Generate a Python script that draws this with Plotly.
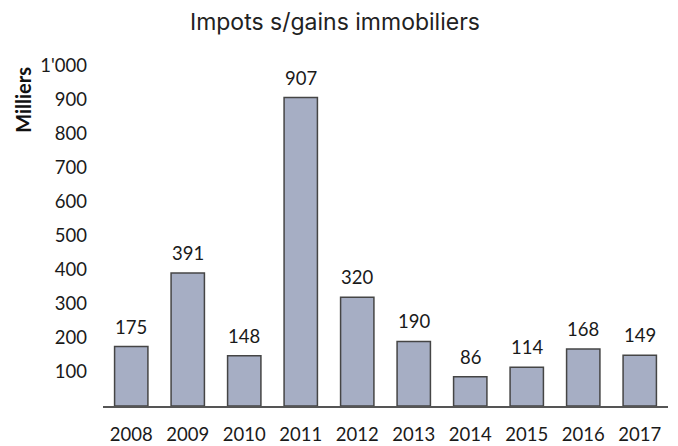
import plotly.graph_objects as go

years = ["2008", "2009", "2010", "2011", "2012", "2013", "2014", "2015", "2016", "2017"]
values = [175, 391, 148, 907, 320, 190, 86, 114, 168, 149]
tick_vals = [100, 200, 300, 400, 500, 600, 700, 800, 900, 1000]
tick_text = ["100", "200", "300", "400", "500", "600", "700", "800", "900", "1'000"]

FONT = "Lato, Open Sans, sans-serif"

fig = go.Figure()
fig.add_trace(go.Bar(
    x=years, y=values,
    marker=dict(color="#a6aec4", line=dict(color="#454545", width=1.5)),
    width=0.59,
))

# category axis: annotation x given as category index
for i, v in enumerate(values):
    fig.add_annotation(x=i, y=v, text=str(v), showarrow=False,
                       xanchor="center", yanchor="bottom", yshift=7,
                       font=dict(family=FONT, size=18.5, color="#1a1a1a"))

fig.add_annotation(xref="paper", yref="paper", x=-0.142, y=0.9,
                   xanchor="center", yanchor="middle",
                   text="<b>Milliers</b>", textangle=-90, showarrow=False,
                   font=dict(family=FONT, size=20, color="#111"))

fig.update_layout(
    width=670, height=446,
    margin=dict(l=95, r=10, t=58, b=48, autoexpand=False),
    paper_bgcolor="white", plot_bgcolor="white",
    title=dict(text="Impots s/gains immobiliers", x=0.488, xanchor="center",
               y=1 - 14 / 446, yanchor="middle",
               font=dict(family="Inter, Lato, sans-serif", size=23, color="#222")),
    showlegend=False,
    font=dict(family=FONT, size=18.5, color="#1a1a1a"),
)
fig.update_xaxes(type="category", range=[-0.5, len(years) - 0.5], showline=True, linecolor="#555",
                 linewidth=1.5, showgrid=False, ticks="", tickfont=dict(size=18.5),
                 ticklabelstandoff=11, automargin=False)
fig.update_yaxes(range=[0, 1000], tickvals=tick_vals, ticktext=tick_text, showgrid=False,
                 zeroline=False, showline=False, ticks="", tickfont=dict(size=18.5),
                 ticklabelstandoff=15, automargin=False)

fig.write_html("out.html")
